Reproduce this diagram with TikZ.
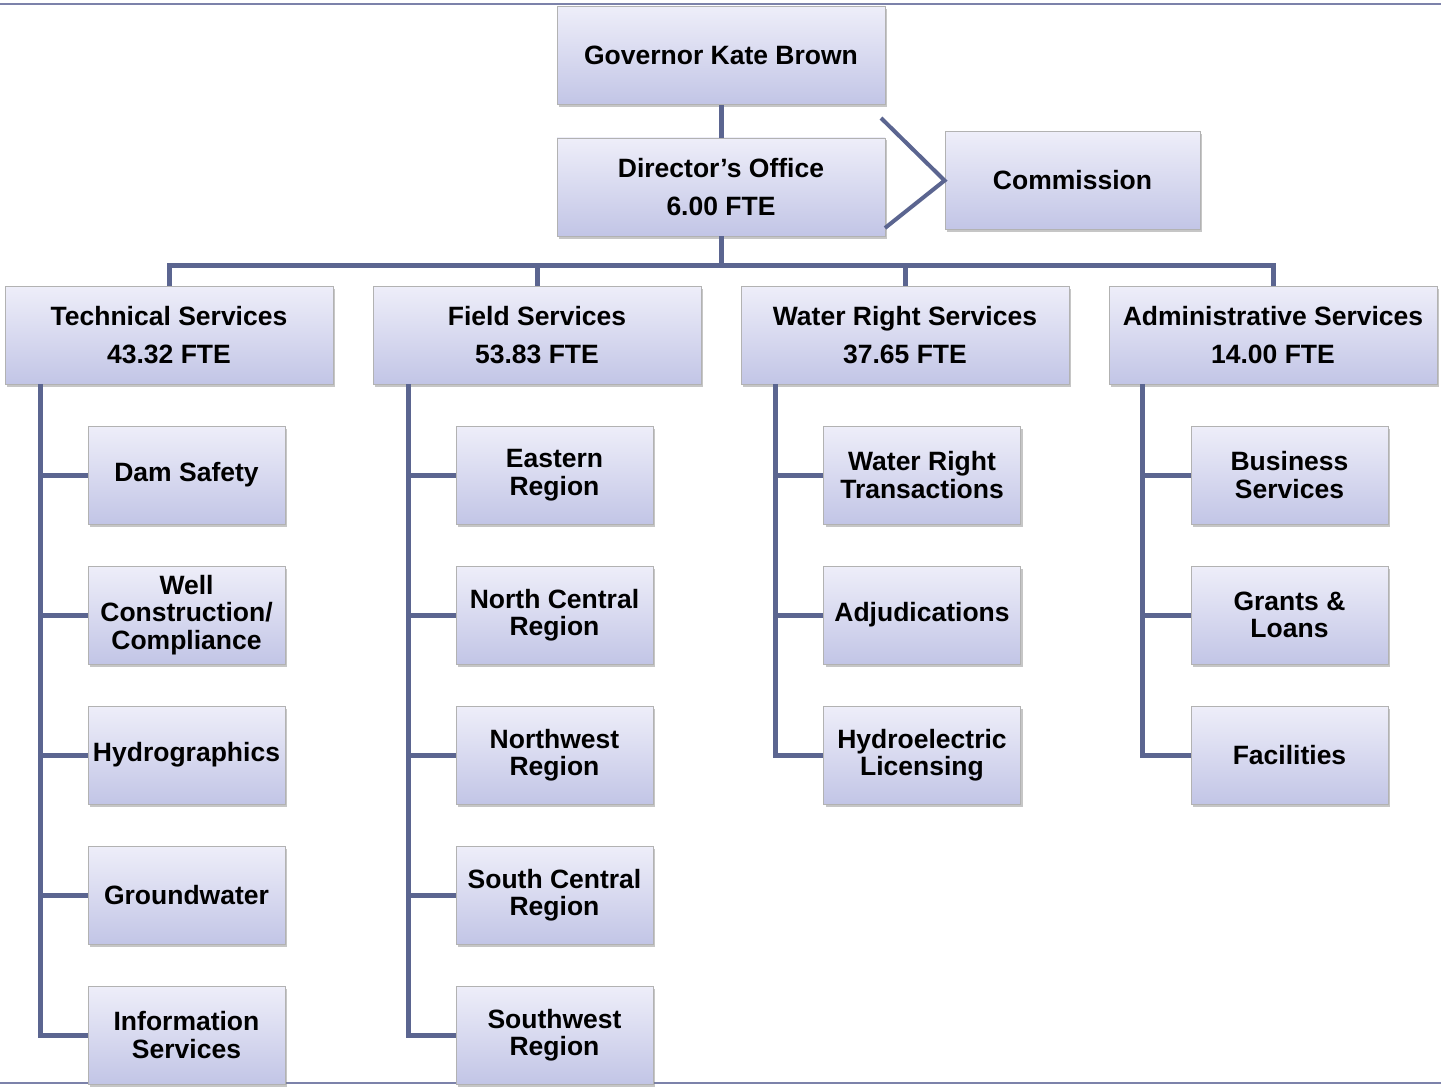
\documentclass[tikz,border=0pt]{standalone}
\usepackage{fontspec}
\setmainfont{Liberation Sans}
\usetikzlibrary{shadows}
\definecolor{linec}{HTML}{5B6590}
\definecolor{rulec}{HTML}{7C82AA}
\definecolor{boxtop}{HTML}{EEEEF9}
\definecolor{boxbot}{HTML}{C2C5E6}
\begin{document}
\begin{tikzpicture}[x=1pt,y=-1pt,
  box/.style={draw=gray!60,line width=0.8pt,top color=boxtop,bottom color=boxbot,
    drop shadow={shadow xshift=2pt,shadow yshift=-2.5pt,opacity=0.45,fill=gray},
    align=center,inner sep=0pt,font=\fontsize{26.5}{38}\selectfont\bfseries},
  big/.style={box,minimum width=328pt,minimum height=98pt},
  small/.style={box,minimum width=197pt,minimum height=98pt,font=\fontsize{26.5}{27.5}\selectfont\bfseries},
  link/.style={draw=linec,line width=5pt}]
\useasboundingbox(0,0)rectangle(1441,1089);
\draw[rulec,line width=2pt](0,4)--(1441,4) (0,1083)--(1441,1083);
% top of the chart
\node[big](gov)at(721,55.5){Governor Kate Brown};
\node[big](dir)at(721,187){Director’s Office\\6.00 FTE};
\node[box,minimum width=255pt,minimum height=98pt](comm)at(1072.5,180.5){Commission};
% divisions
\node[big](tech)at(169,335){Technical Services\\43.32 FTE};
\node[big](field)at(537,335){Field Services\\53.83 FTE};
\node[big](water)at(905,335){Water Right Services\\37.65 FTE};
\node[big](admin)at(1273,335){Administrative Services\\14.00 FTE};
% sections
\foreach \n/\y/\t in {dam/475/Dam Safety,well/615/{Well\\Construction/\\Compliance},hydro/755/Hydrographics,ground/895/Groundwater,info/1035/Information\\Services}
  \node[small](\n)at(186.5,\y){\t};
\foreach \n/\y/\t in {east/475/Eastern\\Region,ncent/615/North Central\\Region,nwest/755/Northwest\\Region,scent/895/South Central\\Region,swest/1035/Southwest\\Region}
  \node[small](\n)at(554.5,\y){\t};
\foreach \n/\y/\t in {trans/475/Water Right\\Transactions,adj/615/Adjudications,hyd/755/Hydroelectric\\Licensing}
  \node[small](\n)at(922,\y){\t};
\foreach \n/\y/\t in {bus/475/Business\\Services,grant/615/Grants \&\\Loans,fac/755/Facilities}
  \node[small](\n)at(1289.5,\y){\t};
% connectors
\coordinate(bar)at(721,265);
\draw[link](gov)--(dir);
\draw[link](dir)--(bar);
\draw[link](tech.north)|-(bar)-|(admin.north);
\draw[link](field.north)--(field.north|-bar);
\draw[link](water.north)--(water.north|-bar);
\coordinate(c1)at(881,118);
\coordinate(c2)at(885,228);
\draw[link,line width=4pt](c1)--(comm.west)--(c2);
\coordinate(ts)at(40,384);
\coordinate(fs)at(408,384);
\coordinate(ws)at(775,384);
\coordinate(as)at(1142,384);
\draw[link](ts)|-(info.west);
\draw[link](fs)|-(swest.west);
\draw[link](ws)|-(hyd.west);
\draw[link](as)|-(fac.west);
\foreach \c in {dam,well,hydro,ground}\draw[link](\c.west)--(\c.west-|ts);
\foreach \c in {east,ncent,nwest,scent}\draw[link](\c.west)--(\c.west-|fs);
\foreach \c in {trans,adj}\draw[link](\c.west)--(\c.west-|ws);
\foreach \c in {bus,grant}\draw[link](\c.west)--(\c.west-|as);
\end{tikzpicture}
\end{document}
